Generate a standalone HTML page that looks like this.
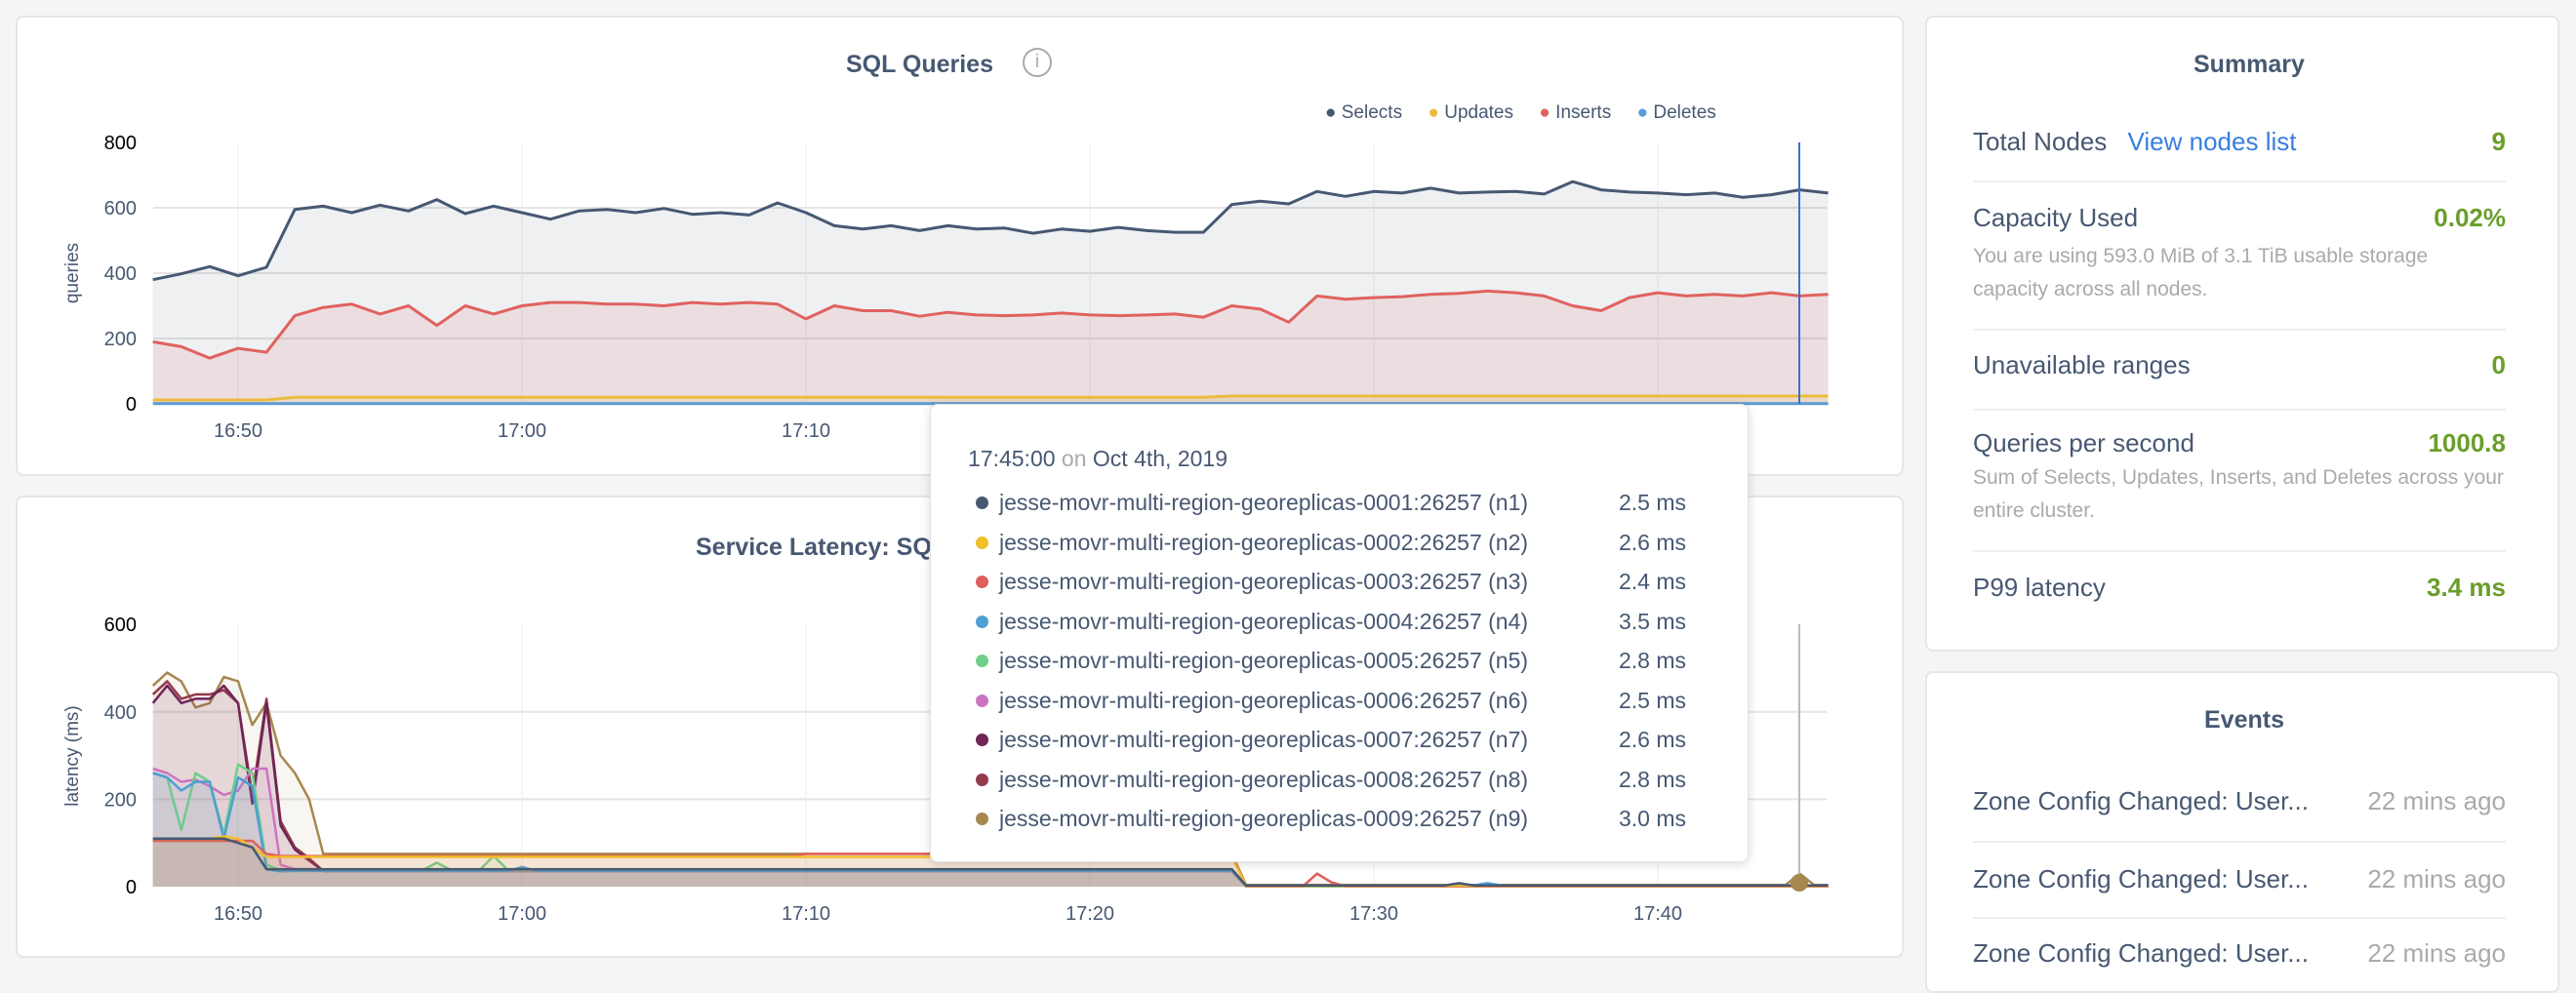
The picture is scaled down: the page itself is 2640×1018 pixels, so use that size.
<!DOCTYPE html>
<html><head><meta charset="utf-8"><style>
body{margin:0;width:2640px;height:998px;background:#f5f5f5;font-family:"Liberation Sans",sans-serif;color:#475872;position:relative;overflow:hidden}
.panel{position:absolute;background:#fff;border:2px solid #e6e6e6;border-radius:8px;box-sizing:border-box}
.abs{position:absolute;white-space:nowrap}
.t{font-weight:bold;font-size:25px}
.row{position:absolute;left:2022px;width:546px;font-size:26px}
.row .v{position:absolute;right:0;top:0;color:#6a9e2a;font-weight:bold}
.desc{font-size:21px;color:#aaa;line-height:34px;position:absolute;left:2022px;width:546px;white-space:normal}
.sep{position:absolute;left:2022px;width:546px;height:2px;background:#eee}
#tt{position:absolute;left:953px;top:414px;width:837px;height:468px;background:#fff;border:1px solid #e2e2e2;border-radius:8px;box-shadow:0 2px 10px rgba(0,0,0,.15)}
.tr{position:absolute;left:70px;font-size:23px;white-space:nowrap}
.tr .d{position:absolute;left:-24px;top:7px;width:13px;height:13px;border-radius:50%}
.tr .m{position:absolute;left:635px}
</style></head><body>
<div class="panel" style="left:16px;top:16px;width:1935px;height:472px"></div>
<div class="panel" style="left:16px;top:508px;width:1935px;height:474px"></div>
<div class="panel" style="left:1973px;top:16px;width:650px;height:652px"></div>
<div class="panel" style="left:1973px;top:688px;width:650px;height:330px"></div>
<svg id="s" width="2640" height="998" style="position:absolute;left:0;top:0"></svg>

<div class="abs t" style="left:867px;top:52px">SQL Queries</div>
<div class="abs" style="left:1048px;top:49px;width:26px;height:26px;border:2px solid #aaa;border-radius:50%;color:#aaa;font-size:19px;text-align:center;line-height:26px">i</div>
<div class="abs" style="left:1358px;top:105px;font-size:19px">
<span style="color:#475872">●</span> Selects &nbsp;&nbsp;&nbsp;&nbsp;<span style="color:#ecbb3e">●</span> Updates &nbsp;&nbsp;&nbsp;&nbsp;<span style="color:#e0625f">●</span> Inserts &nbsp;&nbsp;&nbsp;&nbsp;<span style="color:#5b9bd5">●</span> Deletes</div>
<div class="abs t" style="left:713px;top:547px">Service Latency: SQL, 99th percentile</div>

<div class="abs t" style="left:2248px;top:52px">Summary</div>
<div class="row" style="top:130px">Total Nodes <span style="color:#3a7de1;margin-left:14px">View nodes list</span><span class="v">9</span></div>
<div class="sep" style="top:185px"></div>
<div class="row" style="top:208px">Capacity Used<span class="v">0.02%</span></div>
<div class="desc" style="top:246px">You are using 593.0 MiB of 3.1 TiB usable storage capacity across all nodes.</div>
<div class="sep" style="top:337px"></div>
<div class="row" style="top:359px">Unavailable ranges<span class="v">0</span></div>
<div class="sep" style="top:419px"></div>
<div class="row" style="top:439px">Queries per second<span class="v">1000.8</span></div>
<div class="desc" style="top:473px">Sum of Selects, Updates, Inserts, and Deletes across your entire cluster.</div>
<div class="sep" style="top:564px"></div>
<div class="row" style="top:587px">P99 latency<span class="v">3.4 ms</span></div>
<div class="abs t" style="left:2259px;top:724px">Events</div>
<div class="row" style="top:806px">Zone Config Changed: User...<span class="v" style="color:#aaa;font-weight:normal">22 mins ago</span></div>
<div class="sep" style="top:862px"></div>
<div class="row" style="top:886px">Zone Config Changed: User...<span class="v" style="color:#aaa;font-weight:normal">22 mins ago</span></div>
<div class="sep" style="top:940px"></div>
<div class="row" style="top:962px">Zone Config Changed: User...<span class="v" style="color:#aaa;font-weight:normal">22 mins ago</span></div>

<div id="tt">
<div class="abs" style="left:38px;top:42px;font-size:23px">17:45:00 <span style="color:#aaa">on</span> Oct 4th, 2019</div>
</div>

<script>
const S=document.getElementById('s');let h='';
const X=t=>244+t*29.1;
const Y1=v=>414-v*0.335, Y2=v=>909-v*0.448;
for(const v of [200,400,600]) h+=`<line x1="157" x2="1872" y1="${Y1(v)}" y2="${Y1(v)}" stroke="#e4e4e4" stroke-width="2"/>`;
for(const v of [200,400]) h+=`<line x1="157" x2="1872" y1="${Y2(v)}" y2="${Y2(v)}" stroke="#e4e4e4" stroke-width="2"/>`;
const ticks=['16:50','17:00','17:10','17:20','17:30','17:40'];
ticks.forEach((l,i)=>{const x=X(i*10);
 h+=`<line x1="${x}" x2="${x}" y1="146" y2="414" stroke="#ececec"/><line x1="${x}" x2="${x}" y1="640" y2="909" stroke="#ececec"/>`;
 h+=`<text x="${x}" y="448" font-size="20" fill="#475872" text-anchor="middle">${l}</text><text x="${x}" y="943" font-size="20" fill="#475872" text-anchor="middle">${l}</text>`;});
[[800,'#000'],[600],[400],[200],[0,'#000']].forEach(a=>h+=`<text x="140" y="${Y1(a[0])+7}" font-size="20" fill="${a[1]||'#475872'}" text-anchor="end">${a[0]}</text>`);
[[600,'#000'],[400],[200],[0,'#000']].forEach(a=>h+=`<text x="140" y="${Y2(a[0])+7}" font-size="20" fill="${a[1]||'#475872'}" text-anchor="end">${a[0]}</text>`);
h+=`<text transform="translate(80,280) rotate(-90)" font-size="19" fill="#475872" text-anchor="middle">queries</text>`;
h+=`<text transform="translate(80,775) rotate(-90)" font-size="19" fill="#475872" text-anchor="middle">latency (ms)</text>`;
function series(vals,Y,col,fillOp,sw,t0,dt){let p='';vals.forEach((v,i)=>{p+=(i?'L':'M')+X(t0+i*dt).toFixed(1)+','+Y(v).toFixed(1)});
 const last=X(t0+(vals.length-1)*dt),base=Y(0);
 if(fillOp)h+=`<path d="${p}L${last},${base}L${X(t0)},${base}Z" fill="${col}" fill-opacity="${fillOp}"/>`;
 h+=`<path d="${p}" fill="none" stroke="${col}" stroke-width="${sw}" stroke-linejoin="round"/>`;}
const sel=[380,398,420,392,418,595,605,585,608,590,625,582,605,585,565,590,595,585,598,580,585,578,615,585,545,535,545,530,545,535,538,522,535,528,540,530,525,525,610,620,612,650,635,650,645,660,645,648,650,642,680,655,648,645,640,645,632,640,655,645];
const ins=[190,175,140,170,158,270,295,305,275,300,240,300,275,300,310,310,305,305,300,310,305,310,305,260,300,285,285,268,280,272,270,272,278,272,270,272,275,265,300,290,250,330,320,325,328,335,338,345,340,330,300,285,325,340,330,335,330,340,330,335];
const upd=sel.map((v,i)=>i<5?12:i<38?20:24);
series(sel,Y1,'#475872',0.09,3,-3,1);
series(ins,Y1,'#e0625f',0.12,3,-3,1);
series(upd,Y1,'#ecbb3e',0.15,3,-3,1);
series(sel.map(()=>1),Y1,'#5b9bd5',0,3,-3,1);
h+=`<line x1="1844" x2="1844" y1="146" y2="414" stroke="#3a6fd0" stroke-width="2"/>`;
function lat(early,mid,after,extra){const a=early.slice();while(a.length<77)a.push(mid);while(a.length<119)a.push(after);if(extra)extra.forEach(e=>a[e[0]]=e[1]);return a;}
const L=[
['#a7884f',lat([460,490,470,410,420,480,470,370,420,300,260,200,75],75,4,[[116,30]])],
['#943a4b',lat([440,470,430,440,440,450,420,210,430,150,90,65],36,1)],
['#6e2557',lat([420,460,420,430,430,460,420,190,420,140,85,60],36,1)],
['#cc73c0',lat([270,260,240,245,230,210,220,270,270,50,40,40],36,1)],
['#6fcf8a',lat([260,250,130,260,240,120,280,260,50,38],38,1,[[20,55],[24,70]])],
['#4e9fd4',lat([260,250,220,240,240,110,250,230,40,35],36,3,[[26,45],[94,8]])],
['#e05f5a',lat([105,105,105,105,105,105,105,105,75,70],70,1,[[82,30],[83,10]])],
['#f2be2c',lat([110,110,110,110,110,115,110,90,68],68,2)],
['#475872',lat([110,110,110,110,110,110,100,90,40],40,3,[[92,8]])]];
L[6][1]=L[6][1].map((v,i)=>i>=46&&i<77?75:v);
L.forEach(s=>series(s[1],Y2,s[0],0.08,2.5,-3,0.5));
h+=`<line x1="1844" x2="1844" y1="640" y2="909" stroke="#bbb" stroke-width="2"/><circle cx="1844" cy="905" r="9" fill="#a7884f"/>`;
S.innerHTML=h;
const rows=[['#475872','0001','n1','2.5'],['#f2be2c','0002','n2','2.6'],['#e05f5a','0003','n3','2.4'],['#4e9fd4','0004','n4','3.5'],['#6fcf8a','0005','n5','2.8'],['#cc73c0','0006','n6','2.5'],['#6e2557','0007','n7','2.6'],['#943a4b','0008','n8','2.8'],['#a7884f','0009','n9','3.0']];
let th='';rows.forEach((r,i)=>th+=`<div class="tr" style="top:${87+i*40.5}px"><span class="d" style="background:${r[0]}"></span>jesse-movr-multi-region-georeplicas-${r[1]}:26257 (${r[2]})<span class="m">${r[3]} ms</span></div>`);
document.getElementById('tt').insertAdjacentHTML('beforeend',th);
</script>
</body></html>
